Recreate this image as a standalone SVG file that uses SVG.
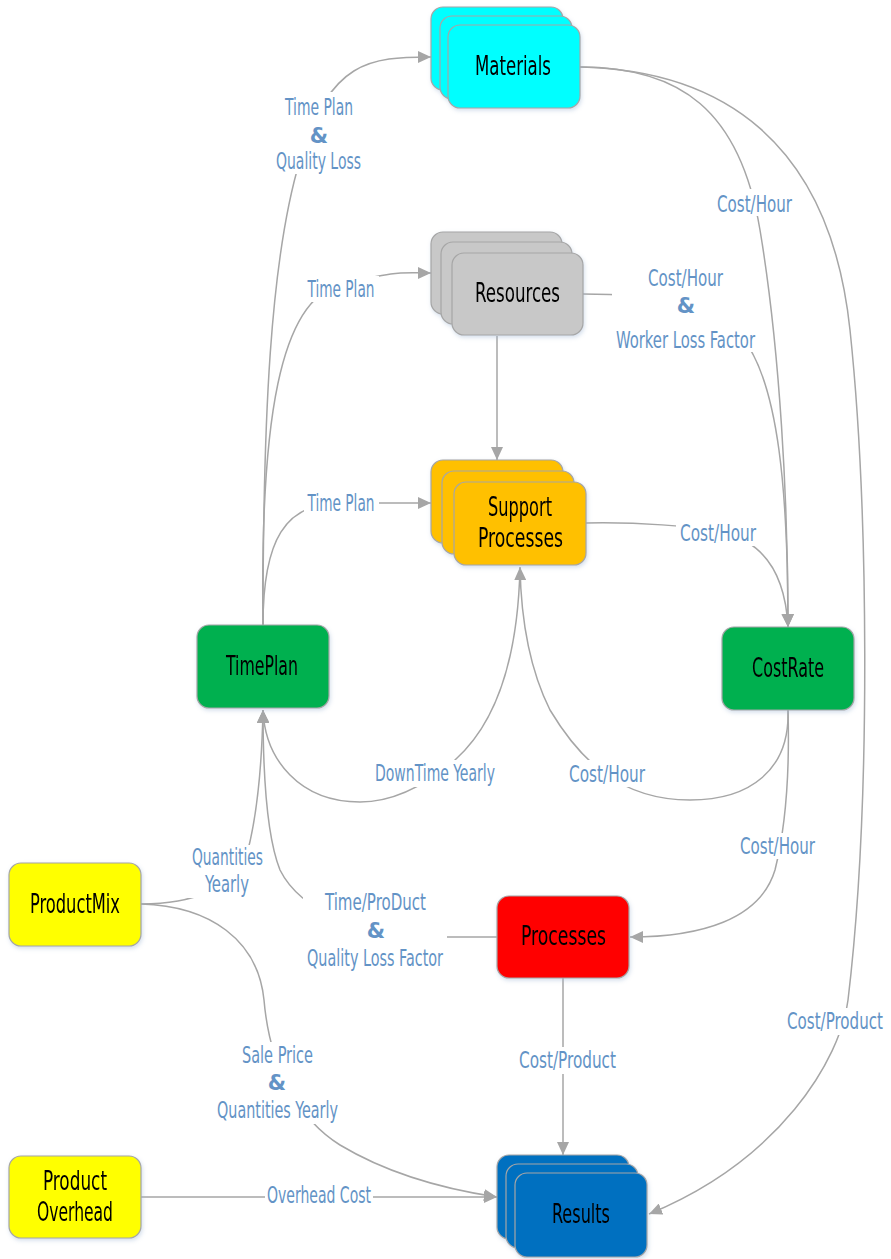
<svg xmlns="http://www.w3.org/2000/svg" width="891" height="1259" viewBox="0 0 891 1259">
<defs>
<style>
.bx{stroke:#a6a6a6;stroke-width:1.2}
.n{font-family:"DejaVu Sans Condensed","DejaVu Sans",sans-serif;font-size:27px;fill:#000;text-anchor:middle}
.l{font-family:"DejaVu Sans Condensed","DejaVu Sans",sans-serif;font-size:23px;fill:#6393c6;text-anchor:middle}
.amp{font-family:"DejaVu Sans","Liberation Sans",sans-serif;font-size:21px;font-weight:bold;fill:#6393c6;text-anchor:middle}
.c{fill:none;stroke:#a6a6a6;stroke-width:1.5}
.a{marker-end:url(#ah)}
.bg{fill:#fff}
</style>
<marker id="ah" markerUnits="userSpaceOnUse" markerWidth="14" markerHeight="12" refX="13" refY="6" orient="auto">
<path d="M0,0 L13,6 L0,12 z" fill="#a6a6a6"/>
</marker>
<filter id="sh" x="-10%" y="-10%" width="130%" height="130%">
<feDropShadow dx="1" dy="2" stdDeviation="2" flood-color="#9fb6d3" flood-opacity="0.45"/>
</filter>
</defs>
<rect width="891" height="1259" fill="#fff"/>

<g id="connectors">
<path class="c a" d="M263,625 C263,420 270,260 300,160 S370,57 431,57"/>
<path class="c a" d="M263,625 C260,420 280,300 340,285 S400,273 431,273"/>
<path class="c a" d="M263,625 C263,540 285,503 340,503 L431,503"/>
<path class="c a" d="M497,336 L497,460"/>
<path class="c a" d="M520,568 C518,650 500,720 455,760 C420,790 390,802 360,802 C300,802 265,760 263,710"/>
<path class="c a" d="M788,710 C790,770 750,800 690,800 C620,800 580,760 550,710 C530,670 521,620 520,567"/>
<path class="c a" d="M141,904 C190,904 235,890 248,850 C258,810 262,760 263,710"/>
<path class="c a" d="M497,937 L440,937 C360,937 300,910 280,870 C268,840 263,780 263,710"/>
<path class="c a" d="M141,904 C210,906 258,940 264,1000 C270,1070 300,1120 340,1145 C390,1175 450,1190 497,1197"/>
<path class="c a" d="M141,1197 L497,1197"/>
<path class="c a" d="M563,978 L563,1155"/>
<path class="c a" d="M788,710 C790,780 785,830 775,870 C760,920 700,937 630,937"/>
<path class="c a" d="M580,67 C680,67 740,110 760,230 C780,350 788,500 788,627"/>
<path class="c a" d="M580,67 C720,70 830,140 850,330 C868,500 872,800 848,1000 C840,1060 780,1160 649,1214"/>
<path class="c a" d="M583,294 C650,294 700,300 740,335 C780,380 788,500 788,627"/>
<path class="c a" d="M586,523 C640,522 690,526 720,532 C760,540 785,570 788,627"/>
</g>

<g id="labels">
<rect class="bg" x="272" y="92" width="93" height="82"/>
<text class="l" x="319" y="115" textLength="68" lengthAdjust="spacingAndGlyphs">Time Plan</text>
<text class="amp" x="319" y="143">&amp;</text>
<text class="l" x="318.5" y="169" textLength="85" lengthAdjust="spacingAndGlyphs">Quality Loss</text>

<rect class="bg" x="304" y="276" width="75" height="26"/>
<text class="l" x="341" y="297" textLength="67" lengthAdjust="spacingAndGlyphs">Time Plan</text>

<rect class="bg" x="304" y="489" width="75" height="26"/>
<text class="l" x="341" y="511" textLength="67" lengthAdjust="spacingAndGlyphs">Time Plan</text>

<rect class="bg" x="713" y="189" width="83" height="27"/>
<text class="l" x="754.5" y="212" textLength="75" lengthAdjust="spacingAndGlyphs">Cost/Hour</text>

<rect class="bg" x="612" y="264" width="148" height="88"/>
<text class="l" x="685.5" y="286" textLength="75" lengthAdjust="spacingAndGlyphs">Cost/Hour</text>
<text class="amp" x="686" y="313">&amp;</text>
<text class="l" x="685.5" y="348" textLength="139" lengthAdjust="spacingAndGlyphs">Worker Loss Factor</text>

<rect class="bg" x="676" y="519" width="84" height="27"/>
<text class="l" x="718" y="541" textLength="76" lengthAdjust="spacingAndGlyphs">Cost/Hour</text>

<rect class="bg" x="371" y="760" width="128" height="27"/>
<text class="l" x="435" y="781" textLength="120" lengthAdjust="spacingAndGlyphs">DownTime Yearly</text>

<rect class="bg" x="565" y="760" width="84" height="27"/>
<text class="l" x="607" y="782" textLength="76" lengthAdjust="spacingAndGlyphs">Cost/Hour</text>

<rect class="bg" x="736" y="833" width="83" height="26"/>
<text class="l" x="777.5" y="854" textLength="75" lengthAdjust="spacingAndGlyphs">Cost/Hour</text>

<rect class="bg" x="188" y="845" width="79" height="53"/>
<text class="l" x="227.5" y="865" textLength="71" lengthAdjust="spacingAndGlyphs">Quantities</text>
<text class="l" x="227" y="892" textLength="44" lengthAdjust="spacingAndGlyphs">Yearly</text>

<rect class="bg" x="303" y="888" width="144" height="84"/>
<text class="l" x="375.5" y="910" textLength="101" lengthAdjust="spacingAndGlyphs">Time/ProDuct</text>
<text class="amp" x="376" y="938">&amp;</text>
<text class="l" x="375" y="966" textLength="136" lengthAdjust="spacingAndGlyphs">Quality Loss Factor</text>

<rect class="bg" x="213" y="1042" width="129" height="82"/>
<text class="l" x="277.5" y="1063" textLength="71" lengthAdjust="spacingAndGlyphs">Sale Price</text>
<text class="amp" x="277" y="1090">&amp;</text>
<text class="l" x="277.5" y="1118" textLength="121" lengthAdjust="spacingAndGlyphs">Quantities Yearly</text>

<rect class="bg" x="265" y="1184" width="108" height="25"/>
<text class="l" x="319" y="1203" textLength="104" lengthAdjust="spacingAndGlyphs">Overhead Cost</text>

<rect class="bg" x="515" y="1047" width="105" height="27"/>
<text class="l" x="567.5" y="1068" textLength="97" lengthAdjust="spacingAndGlyphs">Cost/Product</text>

<rect class="bg" x="783" y="1008" width="104" height="27"/>
<text class="l" transform="translate(835,1029) scale(0.73,1)" x="0" y="0">Cost/Product</text>
</g>

<g id="materials" filter="url(#sh)">
<rect class="bx" x="431" y="7" width="132" height="83" rx="12" fill="#00ffff"/>
<rect class="bx" x="440" y="16" width="132" height="83" rx="12" fill="#00ffff"/>
<rect class="bx" x="448" y="25" width="132" height="83" rx="12" fill="#00ffff"/>
<text class="n" x="513" y="75" textLength="76" lengthAdjust="spacingAndGlyphs">Materials</text>
</g>

<g id="resources" filter="url(#sh)">
<rect class="bx" x="431" y="232" width="131" height="82" rx="12" fill="#c8c8c8"/>
<rect class="bx" x="441" y="242" width="131" height="82" rx="12" fill="#c8c8c8"/>
<rect class="bx" x="452" y="253" width="131" height="82" rx="12" fill="#c8c8c8"/>
<text class="n" x="517.5" y="302" textLength="85" lengthAdjust="spacingAndGlyphs">Resources</text>
</g>

<g id="support-processes" filter="url(#sh)">
<rect class="bx" x="431" y="460" width="132" height="83" rx="12" fill="#ffc000"/>
<rect class="bx" x="442" y="471" width="132" height="83" rx="12" fill="#ffc000"/>
<rect class="bx" x="454" y="482" width="132" height="83" rx="12" fill="#ffc000"/>
<text class="n" x="520" y="516" textLength="64" lengthAdjust="spacingAndGlyphs">Support</text>
<text class="n" x="520.5" y="547" textLength="85" lengthAdjust="spacingAndGlyphs">Processes</text>
</g>

<g id="timeplan" filter="url(#sh)">
<rect class="bx" x="197" y="625" width="132" height="83" rx="12" fill="#00b050"/>
<text class="n" x="262" y="675" textLength="72" lengthAdjust="spacingAndGlyphs">TimePlan</text>
</g>

<g id="costrate" filter="url(#sh)">
<rect class="bx" x="722" y="627" width="132" height="83" rx="12" fill="#00b050"/>
<text class="n" x="788" y="677" textLength="72" lengthAdjust="spacingAndGlyphs">CostRate</text>
</g>

<g id="productmix" filter="url(#sh)">
<rect class="bx" x="9" y="863" width="132" height="83" rx="12" fill="#ffff00"/>
<text class="n" x="75" y="913" textLength="90" lengthAdjust="spacingAndGlyphs">ProductMix</text>
</g>

<g id="processes" filter="url(#sh)">
<rect class="bx" x="497" y="896" width="132" height="82" rx="12" fill="#ff0000"/>
<text class="n" x="563.5" y="945" textLength="85" lengthAdjust="spacingAndGlyphs">Processes</text>
</g>

<g id="product-overhead" filter="url(#sh)">
<rect class="bx" x="9" y="1156" width="132" height="82" rx="12" fill="#ffff00"/>
<text class="n" x="75" y="1190" textLength="64" lengthAdjust="spacingAndGlyphs">Product</text>
<text class="n" x="75" y="1221" textLength="76" lengthAdjust="spacingAndGlyphs">Overhead</text>
</g>

<g id="results" filter="url(#sh)">
<rect class="bx" x="497" y="1155" width="132" height="84" rx="12" fill="#0070c0"/>
<rect class="bx" x="506" y="1164" width="132" height="84" rx="12" fill="#0070c0"/>
<rect class="bx" x="515" y="1173" width="132" height="84" rx="12" fill="#0070c0"/>
<text class="n" x="581" y="1223" textLength="58" lengthAdjust="spacingAndGlyphs">Results</text>
</g>
</svg>
